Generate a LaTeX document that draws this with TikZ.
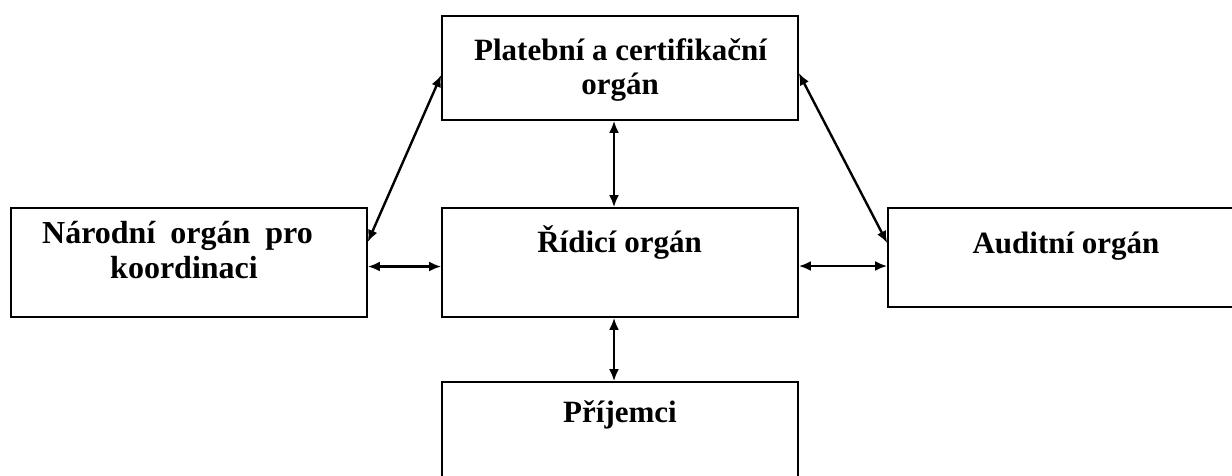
\documentclass[tikz,border=0pt]{standalone}
\usepackage{fontspec}
\setmainfont{Liberation Serif}
\usetikzlibrary{arrows.meta}
\begin{document}
\begin{tikzpicture}[x=1pt,y=-1pt,
  box/.style={draw=black,line width=1.6pt,rectangle,inner sep=0pt,minimum width=356pt},
  lbl/.style={anchor=base,inner sep=0pt,font=\fontsize{31}{34}\selectfont\bfseries},
  big/.style={font=\fontsize{32}{35}\selectfont\bfseries},
  link/.style={line width=2.4pt,{Latex[length=12pt,width=10pt]}-{Latex[length=12pt,width=10pt]}}]
\useasboundingbox (0,0) rectangle (1232,475);
\clip (0,0) rectangle (1232,475);
\fill[white] (0,0) rectangle (1232,475);
% boxes
\node[box,minimum height=104pt] (top) at (620,68) {};
\node[box,minimum height=109pt] (left) at (189,262.5) {};
\node[box,minimum height=109pt] (mid) at (620,262.5) {};
\node[box,minimum height=99pt] (right) at (1066,257.5) {};
\node[box,minimum height=109pt] (bot) at (620,436.5) {};
% texts
\node[lbl] (t1) at (620.5,60) {Platební a certifikační};
\node[lbl] (t2) at (620,94) {orgán};
\node[lbl,big] (l1) at (177.5,243) {\spaceskip=15pt\relax Národní orgán pro};
\node[lbl,big] (l2) at (184,278) {koordinaci};
\node[lbl] (m1) at (619.5,252) {Řídicí orgán};
\node[lbl] (r1) at (1066,253) {Auditní orgán};
\node[lbl] (b1) at (620,422) {Příjemci};
% connectors
\draw[link] ([yshift=20.5pt]left.east) -- ([yshift=-7pt]top.west);
\draw[link] ([yshift=-5pt]top.east) -- ([yshift=14.5pt]right.west);
\draw[link] ([xshift=-6pt]top.south) -- ([xshift=-6pt]mid.north);
\draw[link] ([yshift=-4pt]left.east) -- ([yshift=-4pt]mid.west);
\draw[link] ([yshift=-3.5pt]mid.east) -- ([yshift=-8.5pt]right.west);
\draw[link] ([xshift=-6pt]mid.south) -- ([xshift=-6pt]bot.north);
\end{tikzpicture}
\end{document}
